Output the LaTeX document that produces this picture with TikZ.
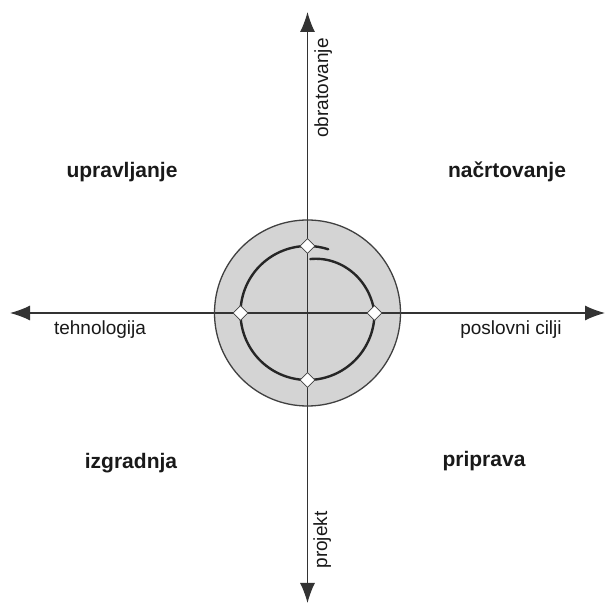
\documentclass[tikz,border=0pt]{standalone}
\usepackage{fontspec}
\setmainfont{Liberation Sans}
\usetikzlibrary{arrows.meta,shapes.geometric}
\begin{document}
\begin{tikzpicture}[x=1pt,y=1pt,
  axis/.style={draw=black!80, line width=1.2pt,
    {Latex[length=20pt,width=15pt]}-{Latex[length=20pt,width=15pt]}},
  quad/.style={font=\fontsize{21}{24}\selectfont\bfseries, text=black!90, inner sep=0, anchor=base},
  axlabel/.style={font=\fontsize{19}{22}\selectfont, text=black!90, inner sep=0, anchor=base},
  dia/.style={diamond, draw=black!75, fill=white, line width=0.8pt,
    minimum width=15pt, minimum height=15pt, inner sep=0},
  ring/.style={draw=black!75, line width=1.3pt},
  spiral/.style={draw=black!85, line width=2.4pt, line cap=round}
]
\useasboundingbox (0,0) rectangle (606,606);
\fill[white] (0,0) rectangle (606,606);
\coordinate (C) at (307.5,293);
% disc
\fill[black!17] (C) circle (93);
% axes
\coordinate (W) at (10,293);
\coordinate (E) at (605,293);
\coordinate (N) at (307.5,594);
\coordinate (S) at (307.5,3);
\draw[axis] (W) -- (E);
\draw[axis] (S) -- (N);
% outer ring
\draw[ring] (C) circle (93);
% spiral
\draw[spiral] ([shift={(72:67)}]C) arc[start angle=72, end angle=360, radius=67]
  -- plot[domain=0:87, samples=40, smooth]
  ({307.5+(67-13*\x/87)*cos(\x)}, {293+(67-13*\x/87)*sin(\x)});
% diamonds
\node[dia] (dN) at ([shift={(0,67)}]C) {};
\node[dia] (dE) at ([shift={(67,0)}]C) {};
\node[dia] (dS) at ([shift={(0,-67)}]C) {};
\node[dia] (dW) at ([shift={(-67,0)}]C) {};
% quadrant labels
\node[quad] (q1) at (122,428) {upravljanje};
\node[quad] (q2) at (507,428) {načrtovanje};
\node[quad] (q3) at (131,137) {izgradnja};
\node[quad] (q4) at (484,139) {priprava};
% axis labels
\node[axlabel] (lw) at (100,271) {tehnologija};
\node[axlabel] (le) at (511,271) {poslovni cilji};
\node[axlabel, rotate=90] (ln) at (328,518) {obratovanje};
\node[axlabel, rotate=90] (ls) at (327,66) {projekt};
\end{tikzpicture}
\end{document}
